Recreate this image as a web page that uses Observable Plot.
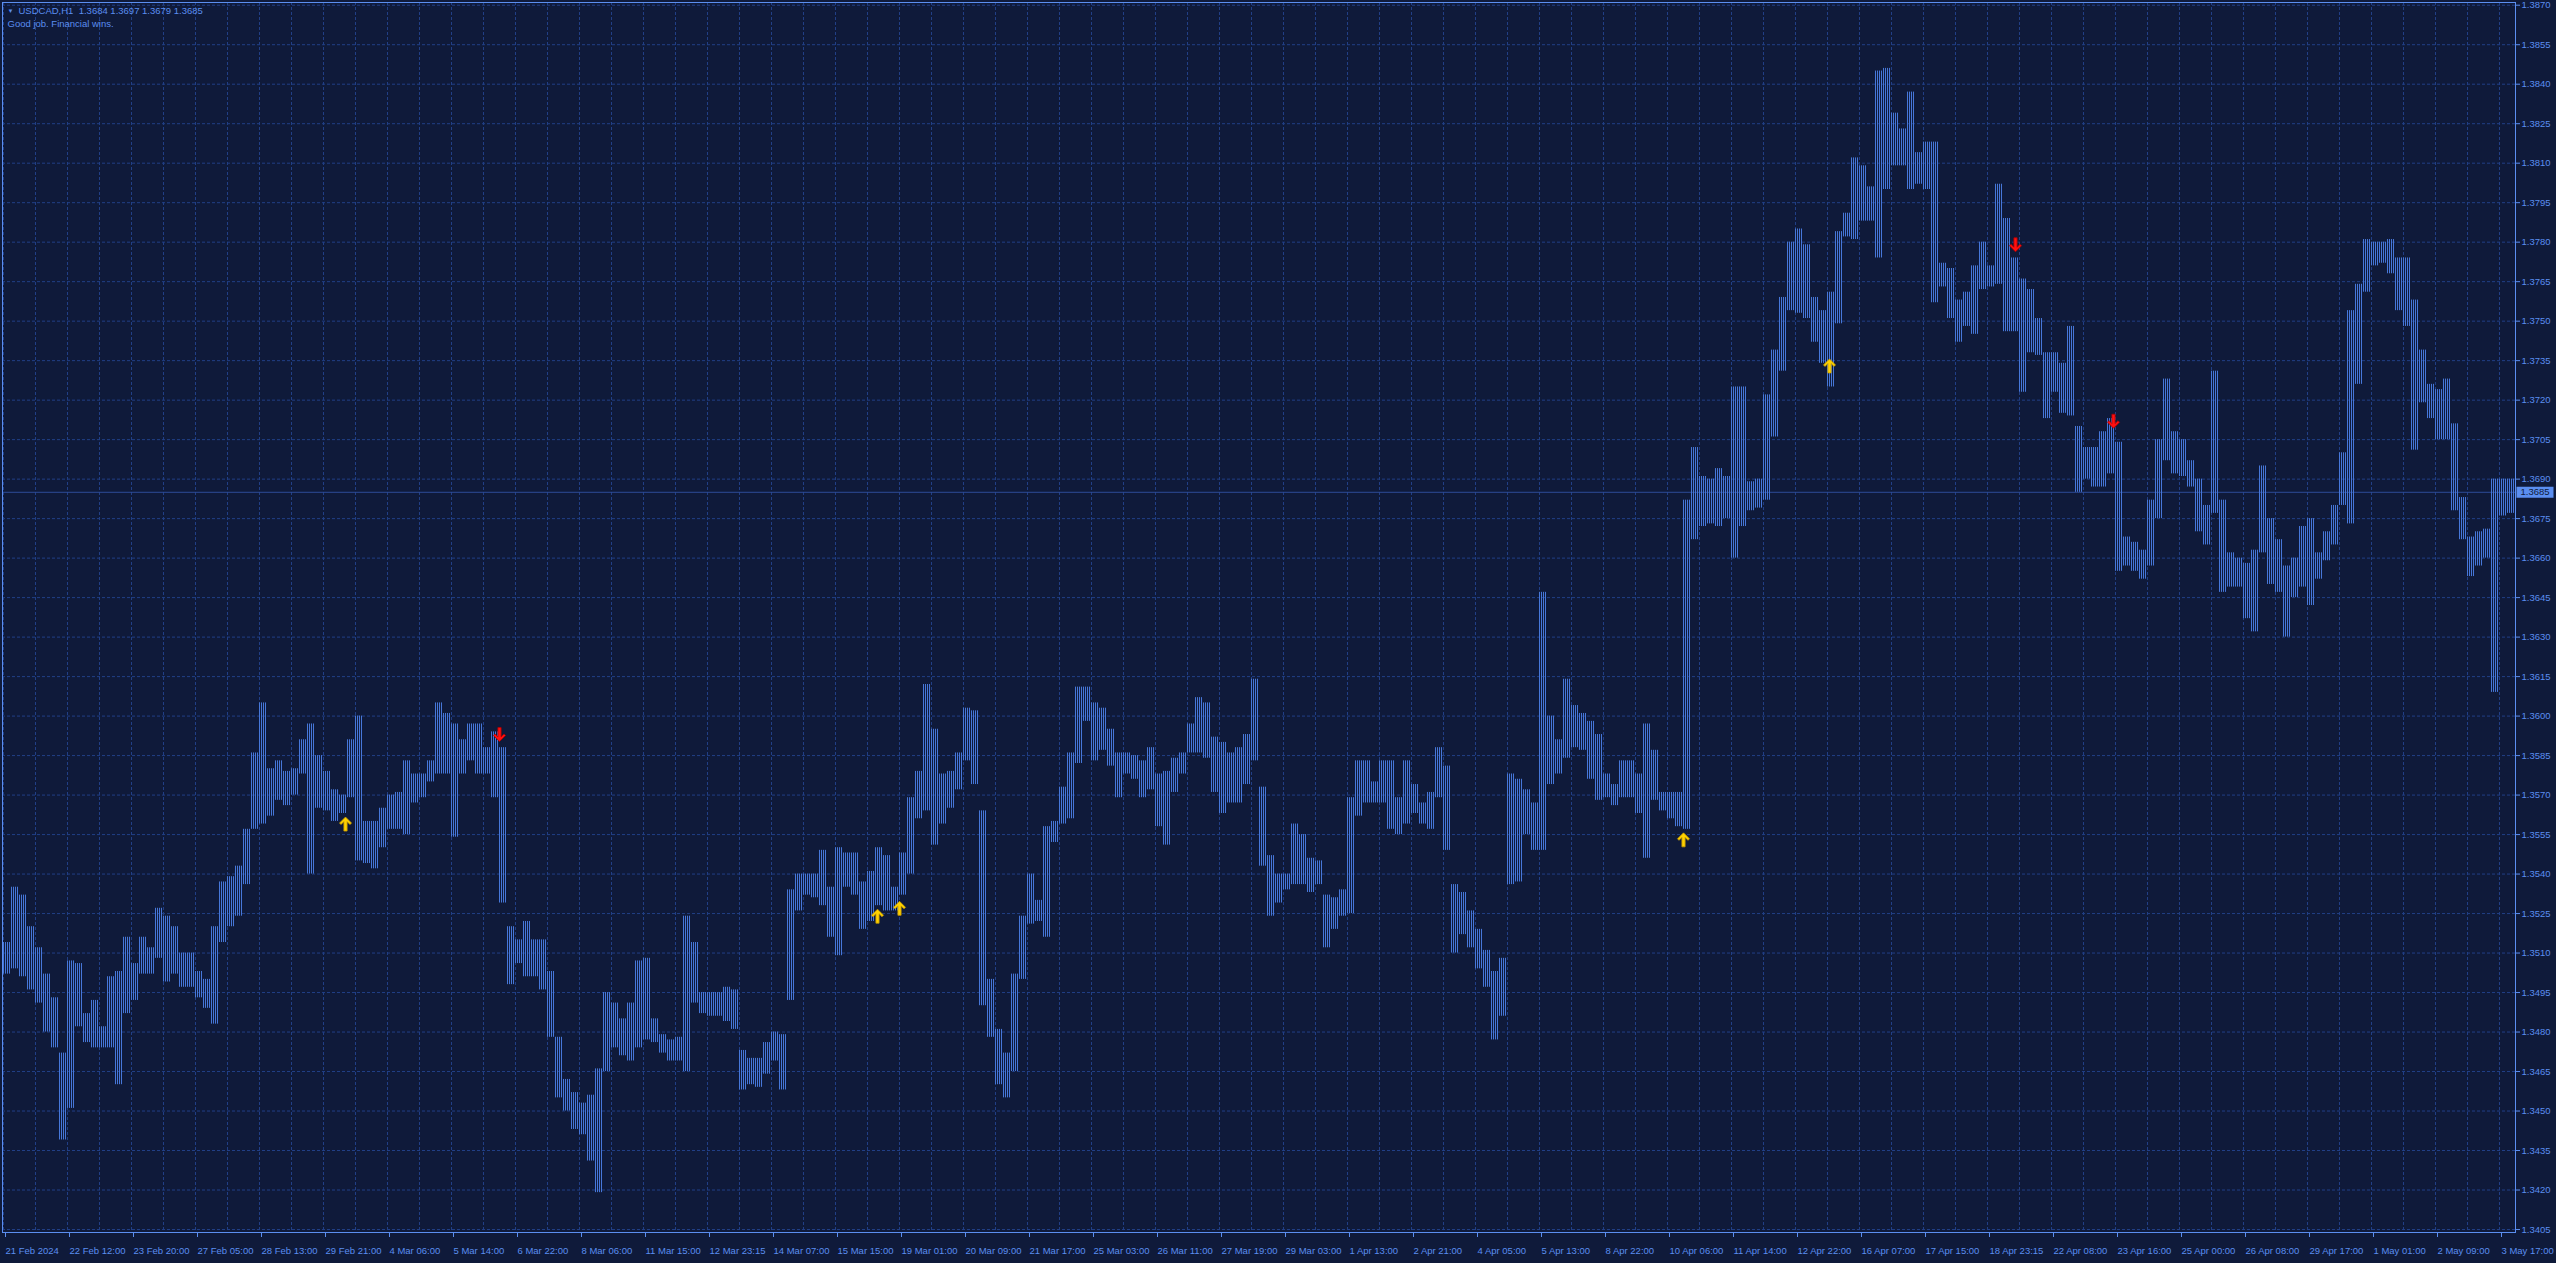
<!DOCTYPE html>
<html><head><meta charset="utf-8">
<script src="https://cdn.jsdelivr.net/npm/d3@7"></script>
<script src="https://cdn.jsdelivr.net/npm/@observablehq/plot@0.6"></script>
<style>
html,body{margin:0;padding:0;background:#0f1a3a;overflow:hidden;}
#chart svg{display:block}
</style></head><body><div id="chart"></div>
<script>
// ---------- data ----------
const symbolName = "USDCAD,H1";
const lastOHLC = [1.3684, 1.3697, 1.3679, 1.3685];
const commentText = "Good job. Financial wins.";
const barsPerGroup = 4; // each entry below = high/low of 4 consecutive H1 bars

const groupHigh = [
1.3514,1.3535,1.3532,1.3520,1.3512,1.3502,1.3493,1.3472,1.3507,1.3506,
1.3487,1.3492,1.3482,1.3501,1.3503,1.3516,1.3506,1.3516,1.3512,1.3527,
1.3524,1.3520,1.3510,1.3510,1.3503,1.3500,1.3520,1.3537,1.3539,1.3543,
1.3557,1.3586,1.3605,1.3580,1.3583,1.3579,1.3580,1.3591,1.3597,1.3585,
1.3579,1.3572,1.3570,1.3591,1.3600,1.3560,1.3560,1.3565,1.3570,1.3571,
1.3583,1.3578,1.3578,1.3583,1.3605,1.3601,1.3597,1.3591,1.3597,1.3597,
1.3588,1.3594,1.3588,1.3520,1.3515,1.3522,1.3515,1.3515,1.3503,1.3478,
1.3462,1.3457,1.3453,1.3456,1.3466,1.3495,1.3491,1.3485,1.3491,1.3507,
1.3508,1.3485,1.3479,1.3477,1.3478,1.3524,1.3514,1.3495,1.3495,1.3495,
1.3497,1.3496,1.3473,1.3470,1.3470,1.3476,1.3480,1.3479,1.3534,1.3540,
1.3540,1.3540,1.3549,1.3535,1.3550,1.3548,1.3548,1.3537,1.3541,1.3550,
1.3547,1.3535,1.3548,1.3569,1.3579,1.3612,1.3595,1.3578,1.3579,1.3586,
1.3603,1.3602,1.3564,1.3500,1.3481,1.3472,1.3502,1.3524,1.3540,1.3530,
1.3558,1.3560,1.3573,1.3586,1.3611,1.3611,1.3605,1.3603,1.3595,1.3586,
1.3586,1.3585,1.3583,1.3588,1.3578,1.3579,1.3584,1.3586,1.3597,1.3607,
1.3605,1.3592,1.3590,1.3586,1.3588,1.3593,1.3614,1.3573,1.3547,1.3540,
1.3540,1.3559,1.3555,1.3546,1.3545,1.3532,1.3531,1.3534,1.3569,1.3583,
1.3583,1.3575,1.3583,1.3583,1.3569,1.3583,1.3574,1.3567,1.3571,1.3588,
1.3581,1.3536,1.3533,1.3526,1.3519,1.3511,1.3503,1.3508,1.3578,1.3576,
1.3572,1.3567,1.3647,1.3600,1.3591,1.3614,1.3604,1.3601,1.3598,1.3593,
1.3578,1.3574,1.3583,1.3583,1.3578,1.3597,1.3587,1.3571,1.3571,1.3571,
1.3682,1.3702,1.3691,1.3690,1.3694,1.3691,1.3725,1.3725,1.3689,1.3690,
1.3722,1.3739,1.3759,1.3780,1.3785,1.3779,1.3759,1.3754,1.3761,1.3784,
1.3791,1.3812,1.3809,1.3801,1.3845,1.3846,1.3829,1.3823,1.3837,1.3814,
1.3818,1.3818,1.3772,1.3770,1.3758,1.3761,1.3771,1.3780,1.3771,1.3802,
1.3789,1.3774,1.3766,1.3762,1.3751,1.3738,1.3738,1.3734,1.3748,1.3710,
1.3702,1.3702,1.3708,1.3713,1.3704,1.3668,1.3666,1.3663,1.3682,1.3705,
1.3728,1.3708,1.3705,1.3697,1.3690,1.3680,1.3731,1.3682,1.3662,1.3660,
1.3658,1.3663,1.3695,1.3675,1.3667,1.3657,1.3660,1.3672,1.3675,1.3662,
1.3670,1.3680,1.3700,1.3754,1.3764,1.3781,1.3780,1.3780,1.3781,1.3774,
1.3774,1.3758,1.3739,1.3726,1.3724,1.3728,1.3711,1.3683,1.3668,1.3670,
1.3671,1.3690,1.3690,1.3690
];
const groupLow = [
1.3502,1.3504,1.3501,1.3496,1.3491,1.3480,1.3474,1.3439,1.3451,1.3482,
1.3476,1.3474,1.3474,1.3474,1.3460,1.3487,1.3492,1.3502,1.3502,1.3508,
1.3499,1.3502,1.3497,1.3497,1.3493,1.3489,1.3483,1.3514,1.3520,1.3524,
1.3536,1.3557,1.3559,1.3562,1.3568,1.3566,1.3570,1.3578,1.3540,1.3565,
1.3564,1.3560,1.3563,1.3569,1.3545,1.3544,1.3542,1.3550,1.3557,1.3557,
1.3555,1.3567,1.3569,1.3575,1.3578,1.3578,1.3554,1.3578,1.3583,1.3578,
1.3578,1.3569,1.3529,1.3498,1.3506,1.3501,1.3501,1.3496,1.3478,1.3455,
1.3450,1.3443,1.3441,1.3431,1.3419,1.3465,1.3474,1.3471,1.3469,1.3474,
1.3477,1.3476,1.3472,1.3469,1.3469,1.3465,1.3491,1.3487,1.3486,1.3486,
1.3484,1.3481,1.3458,1.3460,1.3459,1.3464,1.3469,1.3458,1.3492,1.3526,
1.3532,1.3531,1.3528,1.3516,1.3509,1.3535,1.3532,1.3519,1.3522,1.3528,
1.3526,1.3526,1.3532,1.3540,1.3561,1.3564,1.3551,1.3559,1.3565,1.3572,
1.3583,1.3574,1.3490,1.3478,1.3460,1.3455,1.3465,1.3500,1.3521,1.3522,
1.3516,1.3552,1.3559,1.3561,1.3582,1.3598,1.3583,1.3587,1.3581,1.3569,
1.3578,1.3576,1.3569,1.3572,1.3558,1.3551,1.3571,1.3578,1.3586,1.3586,
1.3584,1.3571,1.3563,1.3567,1.3567,1.3574,1.3583,1.3543,1.3524,1.3529,
1.3534,1.3536,1.3536,1.3533,1.3536,1.3512,1.3519,1.3524,1.3525,1.3562,
1.3567,1.3567,1.3567,1.3557,1.3555,1.3559,1.3563,1.3559,1.3557,1.3569,
1.3549,1.3510,1.3517,1.3512,1.3504,1.3497,1.3477,1.3486,1.3536,1.3537,
1.3555,1.3549,1.3549,1.3574,1.3578,1.3584,1.3588,1.3587,1.3576,1.3568,
1.3569,1.3566,1.3569,1.3569,1.3563,1.3546,1.3568,1.3564,1.3561,1.3558,
1.3557,1.3667,1.3672,1.3673,1.3672,1.3675,1.3660,1.3672,1.3678,1.3679,
1.3682,1.3706,1.3731,1.3754,1.3753,1.3751,1.3742,1.3734,1.3725,1.3749,
1.3782,1.3781,1.3788,1.3788,1.3774,1.3800,1.3809,1.3809,1.3800,1.3802,
1.3800,1.3757,1.3763,1.3751,1.3742,1.3748,1.3745,1.3762,1.3763,1.3764,
1.3746,1.3746,1.3723,1.3738,1.3737,1.3713,1.3723,1.3715,1.3714,1.3685,
1.3690,1.3687,1.3687,1.3692,1.3655,1.3657,1.3655,1.3652,1.3657,1.3675,
1.3697,1.3692,1.3691,1.3687,1.3670,1.3665,1.3677,1.3647,1.3649,1.3649,
1.3637,1.3632,1.3662,1.3650,1.3647,1.3630,1.3645,1.3649,1.3642,1.3652,
1.3659,1.3665,1.3680,1.3673,1.3726,1.3761,1.3771,1.3772,1.3768,1.3754,
1.3748,1.3701,1.3719,1.3713,1.3705,1.3705,1.3678,1.3667,1.3653,1.3657,
1.3660,1.3609,1.3676,1.3677
];

const xTickLabels = ["21 Feb 2024","22 Feb 12:00","23 Feb 20:00","27 Feb 05:00","28 Feb 13:00","29 Feb 21:00","4 Mar 06:00","5 Mar 14:00","6 Mar 22:00","8 Mar 06:00","11 Mar 15:00","12 Mar 23:15","14 Mar 07:00","15 Mar 15:00","19 Mar 01:00","20 Mar 09:00","21 Mar 17:00","25 Mar 03:00","26 Mar 11:00","27 Mar 19:00","29 Mar 03:00","1 Apr 13:00","2 Apr 21:00","4 Apr 05:00","5 Apr 13:00","8 Apr 22:00","10 Apr 06:00","11 Apr 14:00","12 Apr 22:00","16 Apr 07:00","17 Apr 15:00","18 Apr 23:15","22 Apr 08:00","23 Apr 16:00","25 Apr 00:00","26 Apr 08:00","29 Apr 17:00","1 May 01:00","2 May 09:00","3 May 17:00"];
const barsPerLabel = 32;
const barsPerGridLine = 16;
const yTickValues = [1.3405,1.3420,1.3435,1.3450,1.3465,1.3480,1.3495,1.3510,1.3525,1.3540,1.3555,1.3570,1.3585,1.3600,1.3615,1.3630,1.3645,1.3660,1.3675,1.3690,1.3705,1.3720,1.3735,1.3750,1.3765,1.3780,1.3795,1.3810,1.3825,1.3840,1.3855,1.3870];
const priceMin = 1.340386, priceMax = 1.387103;

const upArrowBar   = [171, 437, 448, 840, 913];
const upArrowPrice = [1.3559, 1.3524, 1.3527, 1.3553, 1.3733];
const downArrowBar   = [248, 1006, 1055];
const downArrowPrice = [1.3593, 1.3779, 1.3712];

// ---------- build ----------
const nBars = groupHigh.length * barsPerGroup;
const groups = groupHigh.map((h, i) => ({x1: i*barsPerGroup - 0.5, x2: (i+1)*barsPerGroup - 0.5, high: h, low: groupLow[i]}));
const ups = upArrowBar.map((b, i) => ({bar: b, price: upArrowPrice[i]}));
const downs = downArrowBar.map((b, i) => ({bar: b, price: downArrowPrice[i]}));
const xTicks = xTickLabels.map((_, k) => k * barsPerLabel);
const gridX = d3.range(0, nBars, barsPerGridLine);
const lastClose = lastOHLC[3];

const bg = "#0f1a3a", axisColor = "#5b8ef0", gridColor = "#213f86", barColor = "#4677d9";
const fs = 9.5;

const arrowUp = {draw(ctx, size) {
  const s = Math.sqrt(size / Math.PI) / 6;
  ctx.moveTo(0, -7*s); ctx.lineTo(6*s, -1*s); ctx.lineTo(4.5*s, 0.5*s); ctx.lineTo(1.6*s, -2.4*s);
  ctx.lineTo(1.6*s, 7*s); ctx.lineTo(-1.6*s, 7*s); ctx.lineTo(-1.6*s, -2.4*s); ctx.lineTo(-4.5*s, 0.5*s);
  ctx.lineTo(-6*s, -1*s); ctx.closePath();
}};
const arrowDown = {draw(ctx, size) {
  const s = Math.sqrt(size / Math.PI) / 6;
  ctx.moveTo(0, 7*s); ctx.lineTo(6*s, 1*s); ctx.lineTo(4.5*s, -0.5*s); ctx.lineTo(1.6*s, 2.4*s);
  ctx.lineTo(1.6*s, -7*s); ctx.lineTo(-1.6*s, -7*s); ctx.lineTo(-1.6*s, 2.4*s); ctx.lineTo(-4.5*s, -0.5*s);
  ctx.lineTo(-6*s, 1*s); ctx.closePath();
}};
const priceBox = {draw(ctx) { ctx.rect(1, -5.5, 37, 11); }};

const svg = Plot.plot({
  width: 2556, height: 1263,
  marginLeft: 2, marginTop: 2, marginRight: 41, marginBottom: 31,
  style: {background: bg, color: axisColor, fontFamily: "'Liberation Sans', Arial, sans-serif", fontSize: fs + "px"},
  x: {type: "linear", domain: [-0.5, nBars], axis: null},
  y: {type: "linear", domain: [priceMin, priceMax], axis: null},
  marks: [
    Plot.ruleX(gridX, {stroke: gridColor, strokeDasharray: "3,2"}),
    Plot.ruleY(yTickValues, {stroke: gridColor, strokeDasharray: "3,2"}),
    Plot.ruleY([lastClose], {stroke: "#2d4c98"}),
    Plot.rect(groups, {x1: "x1", x2: "x2", y1: "low", y2: "high", fill: "url(#mtBars)"}),
    Plot.dot(ups, {x: "bar", y: "price", symbol: arrowUp, r: 6, fill: "#ffd200", stroke: "#c79a00", strokeWidth: 0.8}),
    Plot.dot(downs, {x: "bar", y: "price", symbol: arrowDown, r: 6, fill: "#ff1010", stroke: "#b00000", strokeWidth: 0.8}),
    Plot.frame({stroke: axisColor}),
    Plot.axisY(yTickValues, {anchor: "right", tickSize: 4, tickPadding: 2, tickFormat: d => d.toFixed(4), fontSize: fs, label: null}),
    Plot.axisX(xTicks, {anchor: "bottom", tickSize: 5, tickPadding: 10, tickFormat: d => xTickLabels[Math.round(d / barsPerLabel)], textAnchor: "start", dx: 2, fontSize: fs, label: null}),
    Plot.dot([lastClose], {x: () => nBars, y: d => d, symbol: priceBox, r: 5, fill: axisColor, stroke: "none"}),
    Plot.text([lastClose], {x: () => nBars, y: d => d, text: d => d.toFixed(4), textAnchor: "start", dx: 5, fill: bg, fontSize: fs}),
    Plot.text(["\u25BC"], {frameAnchor: "top-left", dx: 5, dy: 6, fontSize: 6, fill: axisColor}),
    Plot.text([`${symbolName}  ${lastOHLC.map(v => v.toFixed(4)).join(" ")}`], {frameAnchor: "top-left", dx: 16, dy: 5, fontSize: fs, fill: axisColor}),
    Plot.text([commentText], {frameAnchor: "top-left", dx: 5, dy: 18, fontSize: fs, fill: axisColor})
  ]
});

const defs = d3.select(svg).insert("defs", ":first-child");
const pat = defs.append("pattern").attr("id", "mtBars").attr("patternUnits", "userSpaceOnUse").attr("width", 2).attr("height", 4);
pat.append("rect").attr("x", 1).attr("y", 0).attr("width", 1).attr("height", 4).attr("fill", barColor);
document.getElementById("chart").appendChild(svg);
</script>
</body></html>
